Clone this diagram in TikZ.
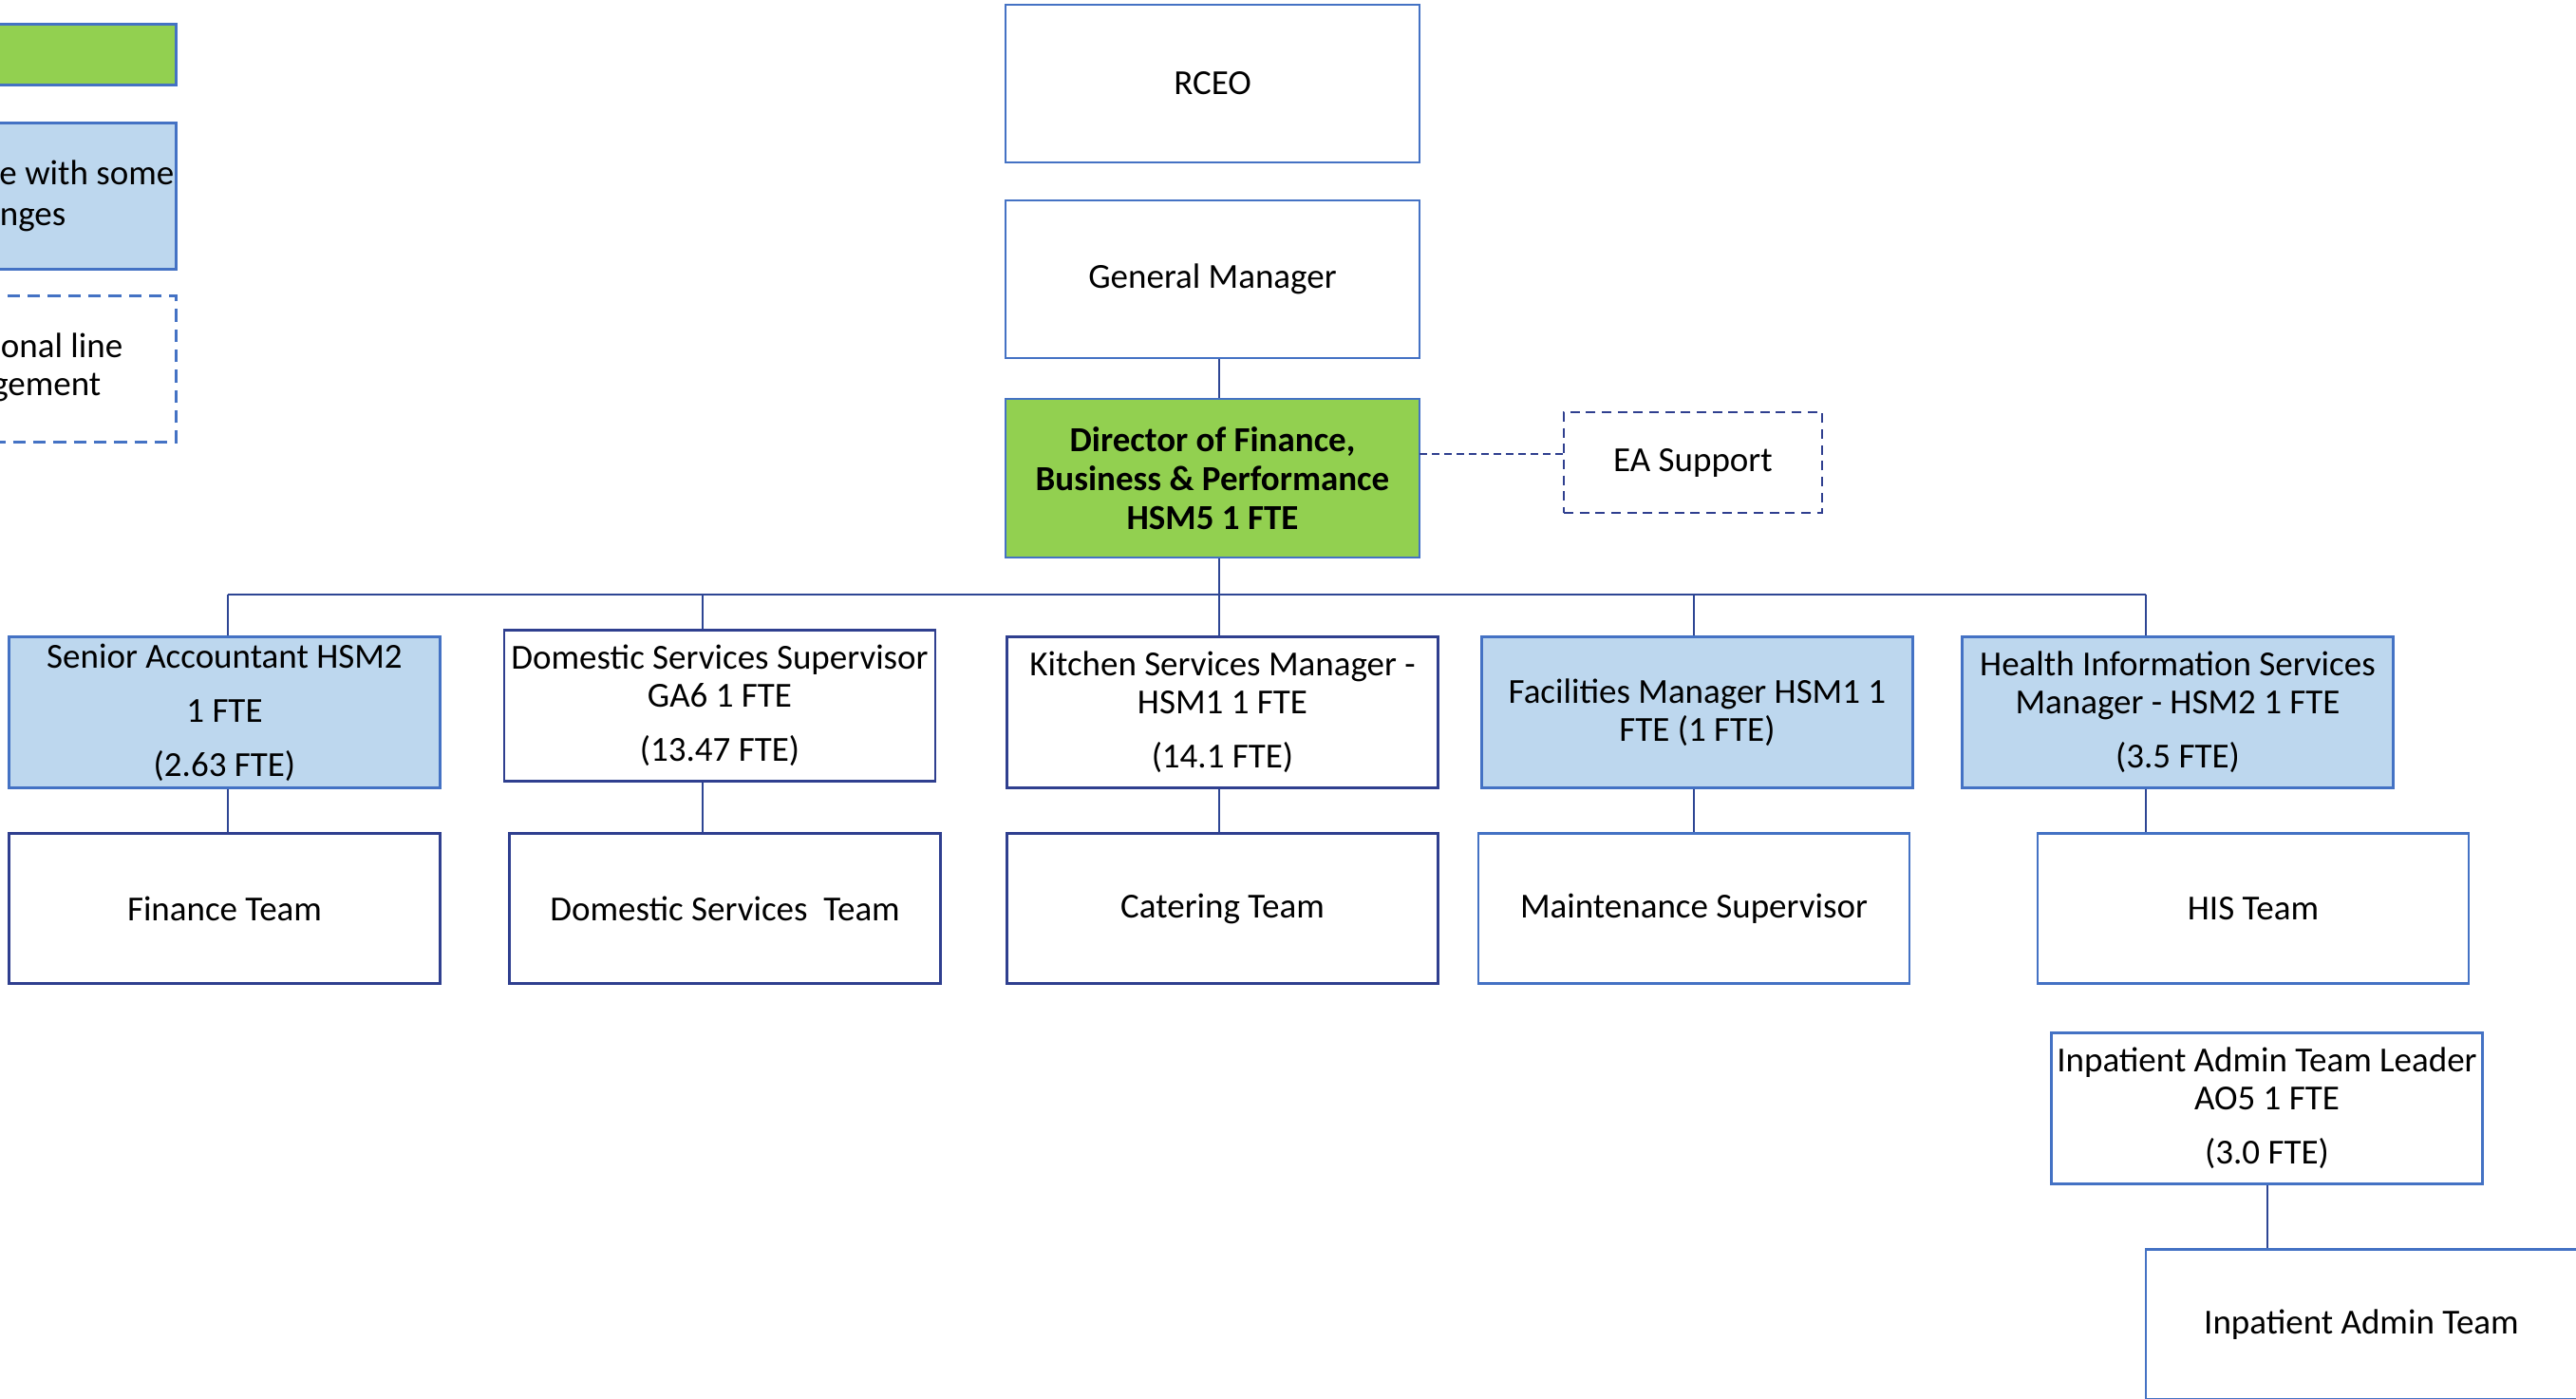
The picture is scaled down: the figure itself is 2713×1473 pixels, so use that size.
\documentclass[tikz,border=0pt]{standalone}
\usepackage{fontspec}
\setmainfont{Carlito}
\usepackage{xcolor}
\usepackage{tikz}
\usetikzlibrary{positioning,calc}

\definecolor{accent}{HTML}{4472C4}
\definecolor{navy}{HTML}{2F3F8F}
\definecolor{linkblue}{HTML}{2E4694}
\definecolor{paleblue}{HTML}{BDD7EE}
\definecolor{leafgreen}{HTML}{92D050}

\tikzset{
	box/.style={draw=accent,line width=0.85pt,inner sep=0pt,align=center,
		minimum width=136.2pt,minimum height=47.5pt,
		font=\fontsize{11.1}{12}\selectfont},
	navybox/.style={box,draw=navy},
	bluebox/.style={box,fill=paleblue},
	greenbox/.style={box,fill=leafgreen,font=\fontsize{11.1}{12.2}\selectfont\bfseries},
	topbox/.style={box,minimum width=130.8pt,minimum height=49.8pt},
	support/.style={box,draw=navy,dash pattern=on 3pt off 2pt,minimum width=81.6pt,minimum height=31.8pt},
	keybox/.style={box,anchor=north east,minimum width=90pt},
	keytext/.style={anchor=base east,inner sep=0pt,font=\fontsize{11.1}{12}\selectfont},
	link/.style={draw=linkblue,line width=0.6pt},
	dashlink/.style={link,draw=navy,dash pattern=on 2.4pt off 1.5pt}
}

\begin{document}
\begin{tikzpicture}[x=0.3pt,y=-0.3pt]
		\useasboundingbox (0,0) rectangle (2713,1473);
		\node[keybox,fill=leafgreen,minimum height=19.2pt] (keygreen) at (187,24) {};
		\node[keybox,fill=paleblue,minimum height=46.2pt] (keyblue) at (187,128) {};
		\node[keybox,dash pattern=on 4pt off 2.4pt,minimum height=46.2pt] (keydash) at (187,310) {};
		\node[keytext] (keyblueA) at (184,195) {e with some};
		\node[keytext] (keyblueB) at (70,238) {nges};
		\node[keytext] (keydashA) at (130,377) {onal line};
		\node[keytext] (keydashB) at (107,417) {gement};
		
		\node[topbox] (rceo) at (1277,88) {RCEO};
		\node[topbox] (gm) at (1277,294) {General Manager};
		\node[greenbox,minimum width=130.8pt,minimum height=50.1pt] (dir) at (1277,503.5)
			{Director of Finance,\\Business \& Performance\\HSM5 1 FTE};
		\node[support] (ea) at (1783,487) {EA Support};
		
		\node[bluebox] (sa) at (236.5,750) {Senior Accountant HSM2\\[5.1pt]1 FTE\\[5.1pt](2.63 FTE)};
		\node[navybox] (dss) at (758,743) {Domestic Services Supervisor\\GA6 1 FTE\\[5.1pt](13.47 FTE)};
		\node[navybox] (kit) at (1287.5,750) {Kitchen Services Manager -\\HSM1 1 FTE\\[5.1pt](14.1 FTE)};
		\node[bluebox] (fac) at (1787.5,750) {Facilities Manager HSM1 1\\FTE (1 FTE)};
		\node[bluebox] (his) at (2293.5,750) {Health Information Services\\Manager - HSM2 1 FTE\\[5.1pt](3.5 FTE)};
		
		\node[navybox] (fin) at (236.5,956.5) {Finance Team};
		\node[navybox] (dst) at (763.5,956.5) {Domestic Services\ \ Team};
		\node[navybox] (cat) at (1287.5,956.5) {Catering Team};
		\node[box] (mnt) at (1784,956.5) {Maintenance Supervisor};
		\node[box] (hist) at (2373,956.5) {HIS Team};
		\node[box] (ial) at (2387.5,1167) {Inpatient Admin Team Leader\\AO5 1 FTE\\[5.1pt](3.0 FTE)};
		\node[box] (iat) at (2487,1394.5) {Inpatient Admin Team};
		
		\coordinate (bus) at (1284,626);
		\coordinate (ksa) at (240,626);
		\coordinate (kdss) at (740,626);
		\coordinate (khis) at (2260,626);
		\coordinate (eal) at (1495,478);
		
		\draw[link] (bus |- gm.south) -- (bus |- dir.north);
		\draw[link] (bus |- dir.south) -- (bus);
		\draw[link] (ksa) -- (khis);
		\draw[dashlink] (eal) -- (eal -| ea.west);
		
		\draw[link] (ksa) -- (ksa |- sa.north);
		\draw[link] (ksa |- sa.south) -- (ksa |- fin.north);
		\draw[link] (kdss) -- (kdss |- dss.north);
		\draw[link] (kdss |- dss.south) -- (kdss |- dst.north);
		\draw[link] (bus) -- (bus |- kit.north);
		\draw[link] (bus |- kit.south) -- (bus |- cat.north);
		\draw[link] (bus -| mnt.north) -- (mnt.north |- fac.north);
		\draw[link] (mnt.north |- fac.south) -- (mnt.north);
		\draw[link] (khis) -- (khis |- his.north);
		\draw[link] (khis |- his.south) -- (khis |- hist.north);
		\draw[link] (ial.south) -- (ial.south |- iat.north);
	\end{tikzpicture}
\end{document}
